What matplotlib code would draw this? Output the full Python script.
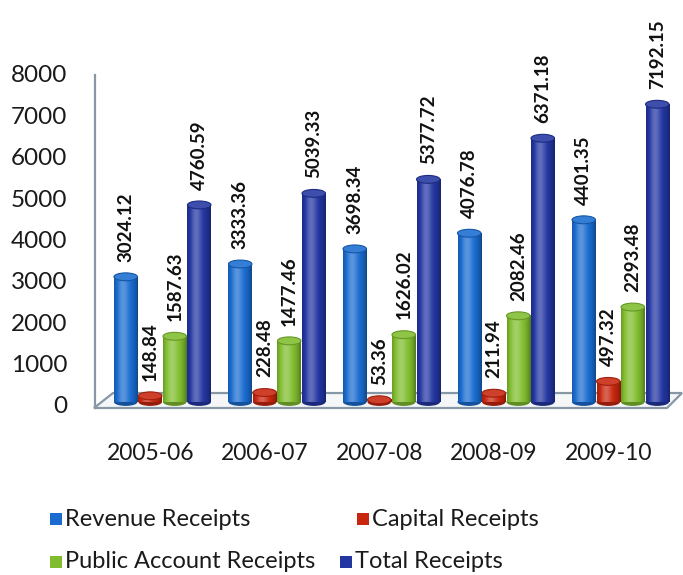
import matplotlib

matplotlib.use('Agg')
import matplotlib.pyplot as plt
import matplotlib.transforms as mtransforms
from matplotlib.patches import Ellipse, Polygon, Rectangle
import matplotlib.colors as mcolors
import numpy as np

plt.rcParams['font.family'] = ['Lato', 'DejaVu Sans']

years = ['2005-06', '2006-07', '2007-08', '2008-09', '2009-10']
revenue = [3024.12, 3333.36, 3698.34, 4076.78, 4401.35]
capital = [148.84, 228.48, 53.36, 211.94, 497.32]
public_account = [1587.63, 1477.46, 1626.02, 2082.46, 2293.48]
total = [4760.59, 5039.33, 5377.72, 6371.18, 7192.15]

series_names = ['Revenue Receipts', 'Capital Receipts',
                'Public Account Receipts', 'Total Receipts']
series_values = [revenue, capital, public_account, total]
series_colors = ['#1a6cd0', '#c8260e', '#80bd2e', '#2436a2']

y_ticks = [0, 1000, 2000, 3000, 4000, 5000, 6000, 7000, 8000]

BAR_W = 0.205
BAR_STEP = 0.214
CAP_H = 190  # height of the cylinder end ellipses, in data units
AXIS_COLOR = '#8797a6'


def shade(color, amount):
    rgb = np.array(mcolors.to_rgb(color))
    if amount >= 0:
        return tuple(rgb + (1 - rgb) * amount)
    return tuple(rgb * (1 + amount))


def cylinder(ax, x, value, color):
    x0, x1 = x - BAR_W / 2, x + BAR_W / 2
    # base ellipse so the foot of the bar looks round
    ax.add_patch(Ellipse((x, 0), BAR_W, CAP_H, facecolor=shade(color, -0.25),
                         edgecolor='none', zorder=3))
    # body: horizontal gradient, dark at the rims, bright a bit left of centre
    t = np.linspace(0, 1, 64)
    light = 0.28 * np.exp(-((t - 0.38) / 0.22) ** 2) - 0.35 * (np.abs(t - 0.45) / 0.55) ** 3
    rows = np.array([shade(color, a) for a in light])[None, :, :]
    ax.imshow(rows, extent=[x0, x1, 0, value], aspect='auto',
              interpolation='bilinear', zorder=4)
    # top cap
    ax.add_patch(Ellipse((x, value), BAR_W, CAP_H, facecolor=shade(color, 0.12),
                         edgecolor=shade(color, -0.2), linewidth=0.8, zorder=5))


fig = plt.figure(figsize=(6.83, 5.75), dpi=100)
fig.patch.set_facecolor('white')
ax = fig.add_axes([94 / 683, 1 - 408 / 575, 588 / 683, 338 / 575])
ax.set_facecolor('none')

x_lim = (-0.598, 4.537)
y_lim = (-145, 8020)

# floor of the 3d box
floor = Polygon([(-0.598, y_lim[0]), (-0.432, 217), (4.537, 217), (4.406, y_lim[0])],
                closed=True, facecolor='#f4f6f8', edgecolor=AXIS_COLOR,
                linewidth=1.6, zorder=1, clip_on=False)
ax.add_patch(floor)
ax.plot([-0.59, -0.59], [y_lim[0], 7900], color=AXIS_COLOR, linewidth=1.6,
        zorder=1, clip_on=False)

x_pos = np.arange(len(years))
offsets = (np.arange(len(series_values)) - 1.5) * BAR_STEP
for vals, color, off in zip(series_values, series_colors, offsets):
    for xi, v in zip(x_pos, vals):
        cylinder(ax, xi + off, v, color)
        ax.annotate(f'{v:.2f}', (xi + off, v), xytext=(0, 11),
                    textcoords='offset points', rotation=90,
                    ha='center', va='bottom', fontsize=13.5,
                    fontweight='bold', color='#111111', zorder=6)

ax.set_xlim(*x_lim)
ax.set_ylim(*y_lim)

ax.set_yticks(y_ticks)
ax.set_yticklabels([str(t) for t in y_ticks], fontsize=17.5, color='#1a1a1a')
ax.set_xticks(x_pos)
ax.set_xticklabels(years, fontsize=16.5, color='#1a1a1a')
ax.tick_params(axis='y', length=0, pad=19)
ax.tick_params(axis='x', length=0, pad=25)

down = mtransforms.ScaledTranslation(0, -3 / 100, fig.dpi_scale_trans)
for lbl in ax.get_yticklabels():
    lbl.set_transform(lbl.get_transform() + down)
left = mtransforms.ScaledTranslation(-12 / 100, 0, fig.dpi_scale_trans)
for lbl in ax.get_xticklabels():
    lbl.set_transform(lbl.get_transform() + left)

for spine in ax.spines.values():
    spine.set_visible(False)

# legend laid out in two rows
legend_spots = [(50, 519), (357, 519), (50, 562), (340, 562)]
for name, color, (lx, ly) in zip(series_names, series_colors, legend_spots):
    fig.patches.append(Rectangle((lx / 683, 1 - (ly + 6) / 575), 12 / 683, 12 / 575,
                                 transform=fig.transFigure, facecolor=color,
                                 edgecolor='none'))
    fig.text((lx + 15) / 683, 1 - ly / 575, name, fontsize=17, color='#1a1a1a',
             va='center', ha='left')

fig.savefig('out.png', dpi=100, facecolor='white')
plt.close(fig)
